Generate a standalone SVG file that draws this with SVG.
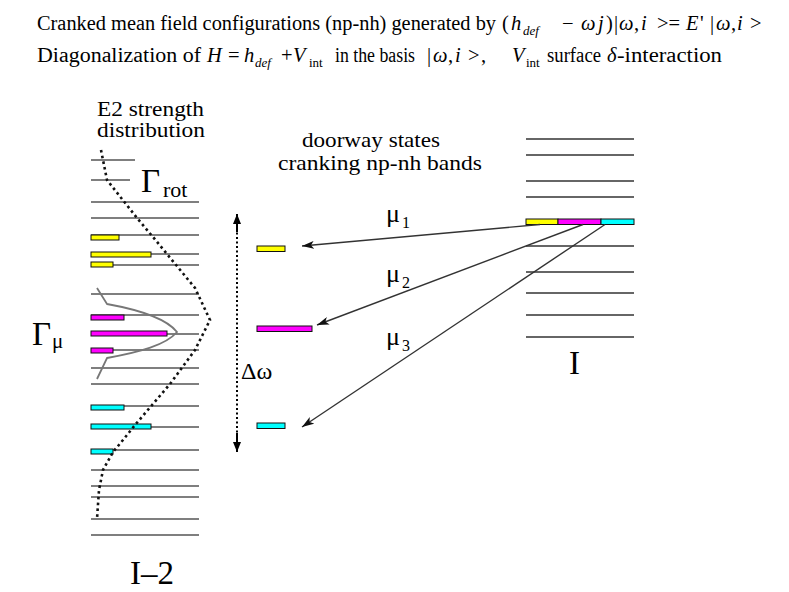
<svg xmlns="http://www.w3.org/2000/svg" width="789" height="592" viewBox="0 0 789 592">
<style>
text{font-family:"Liberation Serif","Times New Roman",serif;fill:#000}
.hdr{font-size:20.5px}
.it{font-style:italic}
.sub{font-size:13px}
.lbl{font-size:20px}
.lbl2{font-size:22px}
.big{font-size:33px}
.mu{font-size:26px}
.ms{font-size:16px}
.lv{stroke:#555;stroke-width:1.6}
.rv{stroke:#666;stroke-width:2}
.bar{stroke:#111;stroke-width:1}
.y{fill:#ffff00}.m{fill:#ff00ff}.c{fill:#00ffff}
.arr{stroke:#333;stroke-width:1.4;fill:none}
</style>
<defs>
<marker id="ah" viewBox="0 0 12 8" refX="12" refY="4" markerWidth="12" markerHeight="8" markerUnits="userSpaceOnUse" orient="auto">
<path d="M0,0 L12,4 L0,8 L3,4 Z" fill="#111"/>
</marker>
<marker id="dh" viewBox="0 0 10 8" refX="10" refY="4" markerWidth="10" markerHeight="8" markerUnits="userSpaceOnUse" orient="auto">
<path d="M0,0 L10,4 L0,8 Z" fill="#000"/>
</marker>
</defs>

<g id="header">
<text class="hdr" y="30"><tspan x="37" textLength="459" lengthAdjust="spacingAndGlyphs">Cranked mean field configurations (np-nh) generated by</tspan><tspan x="502">(</tspan><tspan x="511" class="it">h</tspan><tspan x="523" y="35" class="it sub">def</tspan><tspan x="562" y="30">−</tspan><tspan x="581" class="it">ω</tspan><tspan x="598" class="it">j</tspan><tspan x="606">)</tspan><tspan x="614">|</tspan><tspan x="619" class="it">ω</tspan><tspan x="634">,</tspan><tspan x="641" class="it">i</tspan><tspan x="657">&gt;=</tspan><tspan x="686" class="it">E</tspan><tspan x="700">'</tspan><tspan x="710">|</tspan><tspan x="716" class="it">ω</tspan><tspan x="731">,</tspan><tspan x="737" class="it">i</tspan><tspan x="750">&gt;</tspan></text>
<text class="hdr" y="62"><tspan x="37" textLength="164" lengthAdjust="spacingAndGlyphs">Diagonalization of</tspan><tspan x="207" class="it">H</tspan><tspan x="228">=</tspan><tspan x="244" class="it">h</tspan><tspan x="255" y="67" class="it sub">def</tspan><tspan x="281" y="62">+</tspan><tspan x="293" class="it">V</tspan><tspan x="309" y="67" class="sub">int</tspan><tspan x="335" y="62" textLength="80" lengthAdjust="spacingAndGlyphs">in the basis</tspan><tspan x="427">|</tspan><tspan x="433" class="it">ω</tspan><tspan x="448">,</tspan><tspan x="455" class="it">i</tspan><tspan x="468">&gt;</tspan><tspan x="481">,</tspan><tspan x="512" class="it">V</tspan><tspan x="526" y="67" class="sub">int</tspan><tspan x="547" y="62" textLength="54" lengthAdjust="spacingAndGlyphs">surface</tspan><tspan x="607" class="it">δ</tspan><tspan x="617" textLength="105" lengthAdjust="spacingAndGlyphs">-interaction</tspan></text>
</g>

<g id="left-band">
<text class="lbl" x="97" y="116" textLength="107" lengthAdjust="spacingAndGlyphs">E2 strength</text>
<text class="lbl" x="97" y="137" textLength="108" lengthAdjust="spacingAndGlyphs">distribution</text>
<text class="big" x="141" y="192">Γ</text><text x="163" y="197" style="font-size:22px">rot</text>
<text class="big" x="32" y="345">Γ</text><text x="52" y="348" style="font-size:21px">μ</text>
<line class="lv" x1="91" y1="160" x2="135" y2="160"/>
<line class="lv" x1="91" y1="180" x2="130" y2="180"/>
<line class="lv" x1="91" y1="202" x2="199" y2="202"/>
<line class="lv" x1="91" y1="218" x2="199" y2="218"/>
<line class="lv" x1="91" y1="235" x2="199" y2="235"/>
<line class="lv" x1="91" y1="254" x2="199" y2="254"/>
<line class="lv" x1="91" y1="265" x2="199" y2="265"/>
<line class="lv" x1="91" y1="294" x2="199" y2="294"/>
<line class="lv" x1="91" y1="315" x2="199" y2="315"/>
<line class="lv" x1="91" y1="334" x2="199" y2="334"/>
<line class="lv" x1="91" y1="350" x2="199" y2="350"/>
<line class="lv" x1="91" y1="368" x2="199" y2="368"/>
<line class="lv" x1="91" y1="384" x2="199" y2="384"/>
<line class="lv" x1="91" y1="406" x2="199" y2="406"/>
<line class="lv" x1="91" y1="427" x2="199" y2="427"/>
<line class="lv" x1="91" y1="450" x2="199" y2="450"/>
<line class="lv" x1="91" y1="470" x2="199" y2="470"/>
<line class="lv" x1="91" y1="486" x2="199" y2="486"/>
<line class="lv" x1="91" y1="497" x2="199" y2="497"/>
<line class="lv" x1="91" y1="519" x2="199" y2="519"/>
<line class="lv" x1="91" y1="535" x2="199" y2="535"/>
<rect class="bar y" x="91" y="235" width="28" height="5"/>
<rect class="bar y" x="91" y="252" width="60" height="5"/>
<rect class="bar y" x="91" y="262" width="22" height="5"/>
<rect class="bar m" x="91" y="315" width="33" height="5"/>
<rect class="bar m" x="91" y="331" width="76" height="5"/>
<rect class="bar m" x="91" y="348" width="22" height="5"/>
<rect class="bar c" x="91" y="405" width="33" height="5"/>
<rect class="bar c" x="91" y="424" width="60" height="5"/>
<rect class="bar c" x="91" y="449" width="22" height="5"/>
<path d="M97,288 L107,304 C140,310 166,318 177,332 C166,345 140,352 107,358 L97,379" fill="none" stroke="#777" stroke-width="1.8"/>
<path d="M101,150 L107,180 L137,218 L153,237 L195,288 L210,320 L195,350 L170,384 L135,425 L123,440 L113,452 L103,470 L99,490 L97,519" fill="none" stroke="#111" stroke-width="2.6" stroke-dasharray="2.6 3.2"/>
<text class="big" x="130" y="584">I–2</text>
</g>

<g id="doorway">
<text class="lbl2" x="302" y="147" textLength="138" lengthAdjust="spacingAndGlyphs">doorway states</text>
<text class="lbl2" x="278" y="170" textLength="204" lengthAdjust="spacingAndGlyphs">cranking np-nh bands</text>
<rect class="bar y" x="257" y="246" width="28" height="5.5"/>
<rect class="bar m" x="257" y="326" width="55" height="5.5"/>
<rect class="bar c" x="257" y="423" width="28" height="5.5"/>
<line x1="237" y1="228" x2="237" y2="437" stroke="#000" stroke-width="2" stroke-dasharray="2 2.5"/>
<line x1="237" y1="232" x2="237" y2="214" stroke="#000" stroke-width="2" marker-end="url(#dh)"/>
<line x1="237" y1="433" x2="237" y2="452" stroke="#000" stroke-width="2" marker-end="url(#dh)"/>
<text x="241" y="379" style="font-size:24px">Δω</text>
</g>

<g id="right-band">
<line class="rv" x1="526" y1="139" x2="634" y2="139"/>
<line class="rv" x1="526" y1="155" x2="634" y2="155"/>
<line class="rv" x1="526" y1="181" x2="634" y2="181"/>
<line class="rv" x1="526" y1="197" x2="634" y2="197"/>
<line class="rv" x1="526" y1="246" x2="634" y2="246"/>
<line class="rv" x1="526" y1="272" x2="634" y2="272"/>
<line class="rv" x1="526" y1="293" x2="634" y2="293"/>
<line class="rv" x1="526" y1="315" x2="634" y2="315"/>
<line class="rv" x1="526" y1="337" x2="634" y2="337"/>
<rect class="bar y" x="526" y="219" width="32" height="5.5"/>
<rect class="bar m" x="558" y="219" width="43" height="5.5"/>
<rect class="bar c" x="601" y="219" width="33" height="5.5"/>
<text class="big" x="569" y="374">I</text>
</g>

<g id="connectors">
<line class="arr" x1="540" y1="224.5" x2="302" y2="246" marker-end="url(#ah)"/>
<line class="arr" x1="583" y1="224.5" x2="317" y2="325" marker-end="url(#ah)"/>
<line class="arr" x1="605" y1="224.5" x2="302" y2="427" marker-end="url(#ah)"/>
<text class="mu" x="386" y="222">μ</text><text class="ms" x="402" y="228">1</text>
<text class="mu" x="386" y="282">μ</text><text class="ms" x="402" y="288">2</text>
<text class="mu" x="386" y="345">μ</text><text class="ms" x="402" y="351">3</text>
</g>
</svg>
